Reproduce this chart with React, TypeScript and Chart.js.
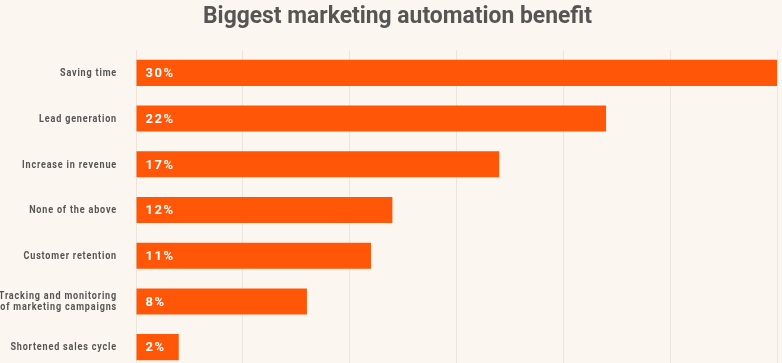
import React, { useEffect, useRef } from "react";
import { Chart, registerables } from "chart.js";

Chart.register(...registerables);

const titleText = "Biggest marketing automation benefit";
const categories: string[][] = [
  ["Saving time"],
  ["Lead generation"],
  ["Increase in revenue"],
  ["None of the above"],
  ["Customer retention"],
  ["Tracking and monitoring", "of marketing campaigns"],
  ["Shortened sales cycle"],
];
const values = [30, 22, 17, 12, 11, 8, 2];
const valueLabels = ["30%", "22%", "17%", "12%", "11%", "8%", "2%"];

const BG = "#FCF6F0";
const BAR = "#FF5608";
const TEXT = "#555555";
const GRID = "#ECE5DC";

const bgPlugin = {
  id: "bg",
  beforeDraw(chart: any) {
    const ctx = chart.ctx;
    ctx.save();
    ctx.fillStyle = BG;
    ctx.fillRect(0, 0, chart.width, chart.height);
    ctx.restore();
  },
};

const textPlugin = {
  id: "texts",
  afterDraw(chart: any) {
    const ctx = chart.ctx;
    // title
    ctx.save();
    ctx.font = "bold 24px Roboto";
    ctx.fillStyle = TEXT;
    ctx.textAlign = "center";
    ctx.textBaseline = "alphabetic";
    const tw = ctx.measureText(titleText).width;
    const tsx = 389 / tw;
    ctx.translate(397.5, 22.7);
    ctx.scale(tsx, 1);
    ctx.fillText(titleText, 0, 0);
    ctx.restore();

    // category labels
    const yScale = chart.scales.y;
    ctx.save();
    ctx.font = "bold 11px Roboto";
    (ctx as any).letterSpacing = "1px";
    ctx.fillStyle = TEXT;
    ctx.textAlign = "right";
    ctx.textBaseline = "middle";
    const ref = ctx.measureText("Saving time").width;
    const sx = 57 / ref;
    const rightX = 116;
    categories.forEach((lines, i) => {
      const yc = yScale.getPixelForValue(i);
      const lh = 11.5;
      lines.forEach((line, j) => {
        const y = yc + (j - (lines.length - 1) / 2) * lh;
        ctx.save();
        ctx.translate(rightX + 1, y + 0.5);
        ctx.scale(sx, 1);
        ctx.fillText(line, 0, 0);
        ctx.restore();
      });
    });
    ctx.restore();
  },
};

const valueLabelPlugin = {
  id: "valueLabels",
  afterDatasetsDraw(chart: any) {
    const ctx = chart.ctx;
    const meta = chart.getDatasetMeta(0);
    ctx.save();
    (ctx as any).letterSpacing = "1.5px";
    ctx.fillStyle = "#FFFFFF";
    ctx.font = "bold 13px Roboto";
    ctx.textAlign = "left";
    ctx.textBaseline = "middle";
    meta.data.forEach((bar: any, i: number) => {
      ctx.fillText(valueLabels[i], bar.base + 9, bar.y + 1);
    });
    ctx.restore();
  },
};

export default function App() {
  const ref = useRef<HTMLCanvasElement | null>(null);
  useEffect(() => {
    if (!ref.current) return;
    const chart = new Chart(ref.current, {
      type: "bar",
      data: {
        labels: categories,
        datasets: [
          {
            data: values,
            backgroundColor: BAR,
            borderWidth: 0,
            categoryPercentage: 1,
            barPercentage: 0.57,
          },
        ],
      },
      options: {
        indexAxis: "y",
        animation: false,
        responsive: false,
        maintainAspectRatio: false,
        layout: { padding: { top: 50, right: 5, left: 0, bottom: 0 } },
        plugins: {
          legend: { display: false },
          tooltip: { enabled: false },
          title: { display: false },
        },
        scales: {
          x: {
            min: 0,
            max: 30,
            afterFit: (s: any) => {
              s.height = 0;
            },
            ticks: { stepSize: 5, display: false },
            grid: { color: GRID, drawTicks: false, lineWidth: 1 },
            border: { display: false },
          },
          y: {
            afterFit: (s: any) => {
              s.width = 136;
            },
            ticks: { display: false },
            grid: { display: false, drawTicks: false },
            border: { display: false },
          },
        },
      },
      plugins: [bgPlugin, valueLabelPlugin, textPlugin],
    });
    return () => chart.destroy();
  }, []);
  return (
    <div style={{ position: "absolute", left: 0, top: 0, width: 782, height: 370, background: BG }}>
      <canvas ref={ref} width={782} height={370} style={{ display: "block" }} />
    </div>
  );
}
